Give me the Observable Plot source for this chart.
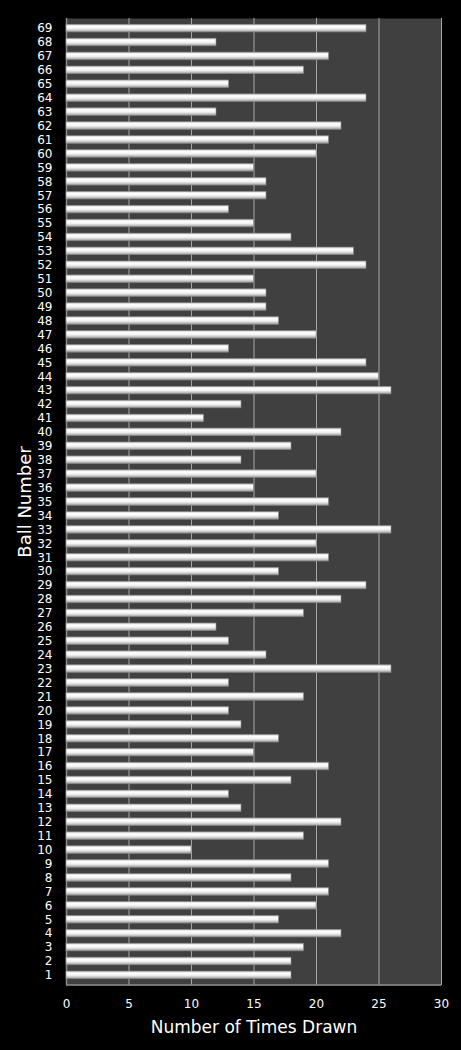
<!DOCTYPE html>
<html>
<head>
<meta charset="utf-8">
<script src="https://cdn.jsdelivr.net/npm/d3@7"></script>
<script src="https://cdn.jsdelivr.net/npm/@observablehq/plot@0.6"></script>
<style>
  html, body { margin: 0; padding: 0; background: #000; }
  #chart svg { display: block; }
</style>
</head>
<body>
<div id="chart"></div>
<script>
// ball numbers and how many times each was drawn
const balls = [1, 2, 3, 4, 5, 6, 7, 8, 9, 10, 11, 12, 13, 14, 15, 16, 17, 18, 19, 20,
  21, 22, 23, 24, 25, 26, 27, 28, 29, 30, 31, 32, 33, 34, 35, 36, 37, 38, 39, 40,
  41, 42, 43, 44, 45, 46, 47, 48, 49, 50, 51, 52, 53, 54, 55, 56, 57, 58, 59, 60,
  61, 62, 63, 64, 65, 66, 67, 68, 69];
const timesDrawn = [18, 18, 19, 22, 17, 20, 21, 18, 21, 10, 19, 22, 14, 13, 18, 21, 15, 17, 14, 13,
  19, 13, 26, 16, 13, 12, 19, 22, 24, 17, 21, 20, 26, 17, 21, 15, 20, 14, 18, 22,
  11, 14, 26, 25, 24, 13, 20, 17, 16, 16, 15, 24, 23, 18, 15, 13, 16, 16, 15, 20,
  21, 22, 12, 24, 13, 19, 21, 12, 24];
const xTicks = [0, 5, 10, 15, 20, 25, 30];
const gridValues = [5, 10, 15, 20, 25, 30];

const data = balls.map((b, i) => ({ball: b, count: timesDrawn[i]}));

const W = 461, H = 1050;
const mL = 66, mR = 20, mT = 18, mB = 65;

let chart = Plot.plot({
  width: W,
  height: H,
  marginLeft: mL,
  marginRight: mR,
  marginTop: mT,
  marginBottom: mB,
  style: {
    background: "#000",
    color: "#fff",
    fontFamily: "'DejaVu Sans', Verdana, sans-serif",
    fontSize: "12px",
    overflow: "visible"
  },
  x: {
    domain: [0, 30],
    ticks: xTicks,
    tickSize: 0,
    tickPadding: 14,
    label: null
  },
  y: {
    domain: balls.slice().reverse(),
    padding: 0.45,
    tickSize: 0,
    tickPadding: 14,
    label: null
  },
  marks: [
    Plot.frame({fill: "#404040", stroke: null}),
    Plot.ruleX(gridValues, {stroke: "#a6a6a6", strokeWidth: 1}),
    Plot.ruleX([0], {stroke: "#8c8c8c", strokeWidth: 1.5}),
    Plot.barX(data, {
      x: "count",
      y: "ball",
      fill: "url(#barGrad)",
      stroke: "#8a8a8a",
      strokeWidth: 0.6
    }),
    Plot.text(["Number of Times Drawn"], {
      frameAnchor: "bottom",
      textAnchor: "middle",
      lineAnchor: "middle",
      dy: 42,
      fontSize: 17,
      fill: "#fff"
    }),
    Plot.text(["Ball Number"], {
      frameAnchor: "left",
      textAnchor: "middle",
      lineAnchor: "middle",
      rotate: -90,
      dx: -41,
      fontSize: 18,
      fill: "#fff"
    })
  ]
});

// gradient for the shiny bars
const svg = d3.select(chart);
const grad = svg.insert("defs", ":first-child")
  .append("linearGradient")
  .attr("id", "barGrad")
  .attr("x1", 0).attr("y1", 0).attr("x2", 0).attr("y2", 1);
[["0%", "#c8c8c8"], ["25%", "#ffffff"], ["55%", "#f2f2f2"], ["80%", "#c4c4c4"], ["100%", "#8c8c8c"]]
  .forEach(([o, c]) => grad.append("stop").attr("offset", o).attr("stop-color", c));

// bottom axis line
svg.append("line")
  .attr("x1", mL).attr("x2", W - mR)
  .attr("y1", H - mB).attr("y2", H - mB)
  .attr("stroke", "#8c8c8c").attr("stroke-width", 1.5);

d3.select('#chart').append(() => chart);
</script>
</body>
</html>
